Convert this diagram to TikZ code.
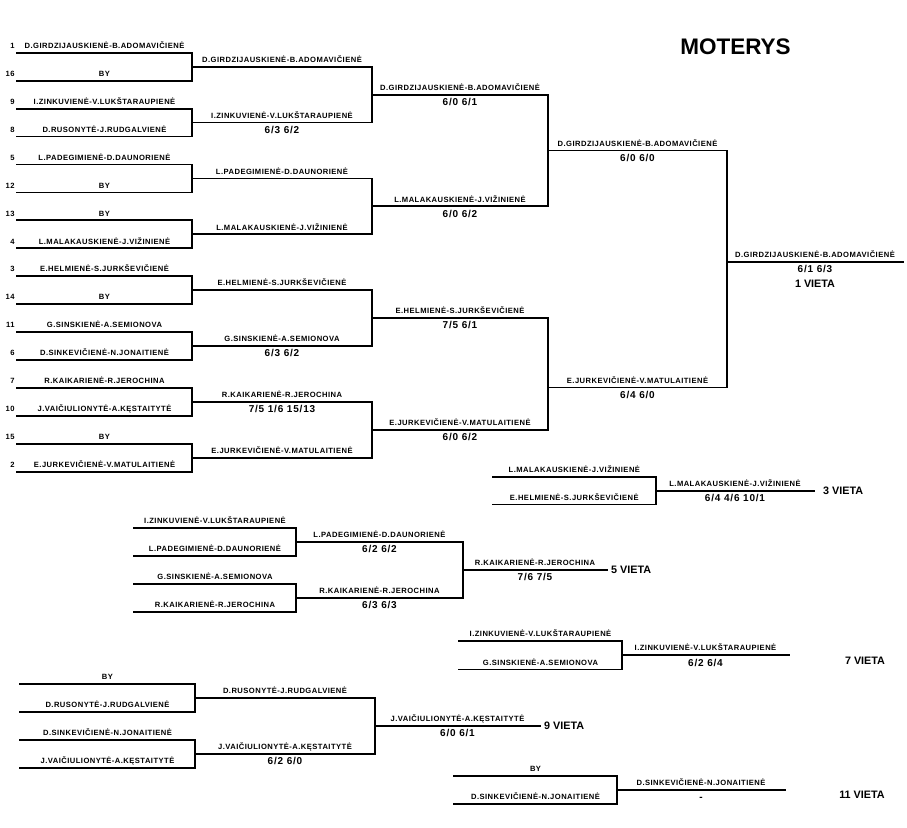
\documentclass[tikz,border=0pt]{standalone}
\usepackage{fontspec}
\setmainfont{Liberation Sans}
\newfontfamily\brfont{Liberation Sans}[LetterSpace=6]
\newfontfamily\resfont{Liberation Sans}[LetterSpace=8]
\usetikzlibrary{calc}

\begin{document}
\begin{tikzpicture}[x=1pt, y=-1pt,
    bline/.style={line width=1.8pt, line cap=rect},
    who/.style={anchor=base, yshift=4.3pt, inner sep=0pt, font=\brfont\bfseries\fontsize{7.6}{8}\selectfont},
    seed/.style={anchor=base east, xshift=-1.5pt, yshift=4.3pt, inner sep=0pt, font=\brfont\bfseries\fontsize{7.6}{8}\selectfont},
    res/.style={anchor=base, yshift=-10.8pt, inner sep=0pt, font=\resfont\bfseries\fontsize{10}{11}\selectfont},
    place/.style={inner sep=0pt, font=\bfseries\fontsize{10.8}{12}\selectfont}]
    \useasboundingbox (0,0) rectangle (907,827);

    \node[inner sep=0pt, font=\bfseries\fontsize{22.5}{24}\selectfont] (title) at (735.5,47) {MOTERYS};

    % main draw
    \coordinate (a1) at (17,52.7);
    \coordinate (a2) at (17,80.6);
    \coordinate (a3) at (17,108.6);
    \coordinate (a4) at (17,136.5);
    \coordinate (a5) at (17,164.5);
    \coordinate (a6) at (17,192.4);
    \coordinate (a7) at (17,220.3);
    \coordinate (a8) at (17,248.3);
    \coordinate (a9) at (17,276.2);
    \coordinate (a10) at (17,304.2);
    \coordinate (a11) at (17,332.1);
    \coordinate (a12) at (17,360.0);
    \coordinate (a13) at (17,388.0);
    \coordinate (a14) at (17,415.9);
    \coordinate (a15) at (17,443.9);
    \coordinate (a16) at (17,471.8);

    \draw[bline] (a1) node[seed] (s1) {1} -- node[who] (a1n) {D.GIRDZIJAUSKIENĖ-B.ADOMAVIČIENĖ} ++(175,0) coordinate (a1e);
    \draw[bline] (a2) node[seed] (s2) {16} -- node[who] (a2n) {BY} ++(175,0) coordinate (a2e);
    \draw[bline] (a3) node[seed] (s3) {9} -- node[who] (a3n) {I.ZINKUVIENĖ-V.LUKŠTARAUPIENĖ} ++(175,0) coordinate (a3e);
    \draw[bline] (a4) node[seed] (s4) {8} -- node[who] (a4n) {D.RUSONYTĖ-J.RUDGALVIENĖ} ++(175,0) coordinate (a4e);
    \draw[bline] (a5) node[seed] (s5) {5} -- node[who] (a5n) {L.PADEGIMIENĖ-D.DAUNORIENĖ} ++(175,0) coordinate (a5e);
    \draw[bline] (a6) node[seed] (s6) {12} -- node[who] (a6n) {BY} ++(175,0) coordinate (a6e);
    \draw[bline] (a7) node[seed] (s7) {13} -- node[who] (a7n) {BY} ++(175,0) coordinate (a7e);
    \draw[bline] (a8) node[seed] (s8) {4} -- node[who] (a8n) {L.MALAKAUSKIENĖ-J.VIŽINIENĖ} ++(175,0) coordinate (a8e);
    \draw[bline] (a9) node[seed] (s9) {3} -- node[who] (a9n) {E.HELMIENĖ-S.JURKŠEVIČIENĖ} ++(175,0) coordinate (a9e);
    \draw[bline] (a10) node[seed] (s10) {14} -- node[who] (a10n) {BY} ++(175,0) coordinate (a10e);
    \draw[bline] (a11) node[seed] (s11) {11} -- node[who] (a11n) {G.SINSKIENĖ-A.SEMIONOVA} ++(175,0) coordinate (a11e);
    \draw[bline] (a12) node[seed] (s12) {6} -- node[who] (a12n) {D.SINKEVIČIENĖ-N.JONAITIENĖ} ++(175,0) coordinate (a12e);
    \draw[bline] (a13) node[seed] (s13) {7} -- node[who] (a13n) {R.KAIKARIENĖ-R.JEROCHINA} ++(175,0) coordinate (a13e);
    \draw[bline] (a14) node[seed] (s14) {10} -- node[who] (a14n) {J.VAIČIULIONYTĖ-A.KĘSTAITYTĖ} ++(175,0) coordinate (a14e);
    \draw[bline] (a15) node[seed] (s15) {15} -- node[who] (a15n) {BY} ++(175,0) coordinate (a15e);
    \draw[bline] (a16) node[seed] (s16) {2} -- node[who] (a16n) {E.JURKEVIČIENĖ-V.MATULAITIENĖ} ++(175,0) coordinate (a16e);

    \draw[bline] (a1e) -- (a2e);
    \draw[bline] (a3e) -- (a4e);
    \draw[bline] (a5e) -- (a6e);
    \draw[bline] (a7e) -- (a8e);
    \draw[bline] (a9e) -- (a10e);
    \draw[bline] (a11e) -- (a12e);
    \draw[bline] (a13e) -- (a14e);
    \draw[bline] (a15e) -- (a16e);

    \coordinate (b1) at ($(a1e)!.5!(a2e)$);
    \coordinate (b2) at ($(a3e)!.5!(a4e)$);
    \coordinate (b3) at ($(a5e)!.5!(a6e)$);
    \coordinate (b4) at ($(a7e)!.5!(a8e)$);
    \coordinate (b5) at ($(a9e)!.5!(a10e)$);
    \coordinate (b6) at ($(a11e)!.5!(a12e)$);
    \coordinate (b7) at ($(a13e)!.5!(a14e)$);
    \coordinate (b8) at ($(a15e)!.5!(a16e)$);

    \draw[bline] (b1) -- node[who] (b1n) {D.GIRDZIJAUSKIENĖ-B.ADOMAVIČIENĖ} ++(180,0) coordinate (b1e);
    \draw[bline] (b2) -- node[who] (b2n) {I.ZINKUVIENĖ-V.LUKŠTARAUPIENĖ} node[res] (b2r) {6/3 6/2} ++(180,0) coordinate (b2e);
    \draw[bline] (b3) -- node[who] (b3n) {L.PADEGIMIENĖ-D.DAUNORIENĖ} ++(180,0) coordinate (b3e);
    \draw[bline] (b4) -- node[who] (b4n) {L.MALAKAUSKIENĖ-J.VIŽINIENĖ} ++(180,0) coordinate (b4e);
    \draw[bline] (b5) -- node[who] (b5n) {E.HELMIENĖ-S.JURKŠEVIČIENĖ} ++(180,0) coordinate (b5e);
    \draw[bline] (b6) -- node[who] (b6n) {G.SINSKIENĖ-A.SEMIONOVA} node[res] (b6r) {6/3 6/2} ++(180,0) coordinate (b6e);
    \draw[bline] (b7) -- node[who] (b7n) {R.KAIKARIENĖ-R.JEROCHINA} node[res] (b7r) {7/5 1/6 15/13} ++(180,0) coordinate (b7e);
    \draw[bline] (b8) -- node[who] (b8n) {E.JURKEVIČIENĖ-V.MATULAITIENĖ} ++(180,0) coordinate (b8e);

    \draw[bline] (b1e) -- (b2e);
    \draw[bline] (b3e) -- (b4e);
    \draw[bline] (b5e) -- (b6e);
    \draw[bline] (b7e) -- (b8e);

    \coordinate (c1) at ($(b1e)!.5!(b2e)$);
    \coordinate (c2) at ($(b3e)!.5!(b4e)$);
    \coordinate (c3) at ($(b5e)!.5!(b6e)$);
    \coordinate (c4) at ($(b7e)!.5!(b8e)$);

    \draw[bline] (c1) -- node[who] (c1n) {D.GIRDZIJAUSKIENĖ-B.ADOMAVIČIENĖ} node[res] (c1r) {6/0 6/1} ++(176,0) coordinate (c1e);
    \draw[bline] (c2) -- node[who] (c2n) {L.MALAKAUSKIENĖ-J.VIŽINIENĖ} node[res] (c2r) {6/0 6/2} ++(176,0) coordinate (c2e);
    \draw[bline] (c3) -- node[who] (c3n) {E.HELMIENĖ-S.JURKŠEVIČIENĖ} node[res] (c3r) {7/5 6/1} ++(176,0) coordinate (c3e);
    \draw[bline] (c4) -- node[who] (c4n) {E.JURKEVIČIENĖ-V.MATULAITIENĖ} node[res] (c4r) {6/0 6/2} ++(176,0) coordinate (c4e);

    \draw[bline] (c1e) -- (c2e);
    \draw[bline] (c3e) -- (c4e);

    \coordinate (d1) at ($(c1e)!.5!(c2e)$);
    \coordinate (d2) at ($(c3e)!.62!(c4e)$);

    \draw[bline] (d1) -- node[who] (d1n) {D.GIRDZIJAUSKIENĖ-B.ADOMAVIČIENĖ} node[res] (d1r) {6/0 6/0} ++(179,0) coordinate (d1e);
    \draw[bline] (d2) -- node[who] (d2n) {E.JURKEVIČIENĖ-V.MATULAITIENĖ} node[res] (d2r) {6/4 6/0} ++(179,0) coordinate (d2e);

    \draw[bline] (d1e) -- (d2e);

    \coordinate (fin) at ($(d1e)!.469!(d2e)$);
    \draw[bline] (fin) -- node[who] (finn) {D.GIRDZIJAUSKIENĖ-B.ADOMAVIČIENĖ} node[res] (finr) {6/1 6/3} ++(176,0) coordinate (fine);
    \node[place] (p1) at ($(fin)+(88,21.8)$) {1 VIETA};

    % 3rd place
    \coordinate (th1) at (492.7,476.9);
    \coordinate (th2) at (492.7,504.5);
    \draw[bline] (th1) -- node[who] (th1n) {L.MALAKAUSKIENĖ-J.VIŽINIENĖ} ++(163.3,0) coordinate (th1e);
    \draw[bline] (th2) -- node[who] (th2n) {E.HELMIENĖ-S.JURKŠEVIČIENĖ} ++(163.3,0) coordinate (th2e);
    \draw[bline] (th1e) -- (th2e);
    \coordinate (thf) at ($(th1e)!.5!(th2e)$);
    \draw[bline] (thf) -- node[who] (thfn) {L.MALAKAUSKIENĖ-J.VIŽINIENĖ} node[res] (thfr) {6/4 4/6 10/1} ++(158,0) coordinate (thfe);
    \node[place, anchor=west] (p3) at ($(thfe)+(9,0.5)$) {3 VIETA};

    % 5th place
    \coordinate (fi1) at (134,527.7);
    \coordinate (fi2) at (134,555.7);
    \coordinate (fi3) at (134,583.7);
    \coordinate (fi4) at (134,611.7);
    \draw[bline] (fi1) -- node[who] (fi1n) {I.ZINKUVIENĖ-V.LUKŠTARAUPIENĖ} ++(162,0) coordinate (fi1e);
    \draw[bline] (fi2) -- node[who] (fi2n) {L.PADEGIMIENĖ-D.DAUNORIENĖ} ++(162,0) coordinate (fi2e);
    \draw[bline] (fi3) -- node[who] (fi3n) {G.SINSKIENĖ-A.SEMIONOVA} ++(162,0) coordinate (fi3e);
    \draw[bline] (fi4) -- node[who] (fi4n) {R.KAIKARIENĖ-R.JEROCHINA} ++(162,0) coordinate (fi4e);
    \draw[bline] (fi1e) -- (fi2e);
    \draw[bline] (fi3e) -- (fi4e);
    \coordinate (fj1) at ($(fi1e)!.5!(fi2e)$);
    \coordinate (fj2) at ($(fi3e)!.5!(fi4e)$);
    \draw[bline] (fj1) -- node[who] (fj1n) {L.PADEGIMIENĖ-D.DAUNORIENĖ} node[res] (fj1r) {6/2 6/2} ++(167,0) coordinate (fj1e);
    \draw[bline] (fj2) -- node[who] (fj2n) {R.KAIKARIENĖ-R.JEROCHINA} node[res] (fj2r) {6/3 6/3} ++(167,0) coordinate (fj2e);
    \draw[bline] (fj1e) -- (fj2e);
    \coordinate (fif) at ($(fj1e)!.5!(fj2e)$);
    \draw[bline] (fif) -- node[who] (fifn) {R.KAIKARIENĖ-R.JEROCHINA} node[res] (fifr) {7/6 7/5} ++(144,0) coordinate (fife);
    \node[place, anchor=west] (p5) at ($(fife)+(4,0.5)$) {5 VIETA};

    % 7th place
    \coordinate (se1) at (459,641);
    \coordinate (se2) at (459,669.5);
    \draw[bline] (se1) -- node[who] (se1n) {I.ZINKUVIENĖ-V.LUKŠTARAUPIENĖ} ++(163,0) coordinate (se1e);
    \draw[bline] (se2) -- node[who] (se2n) {G.SINSKIENĖ-A.SEMIONOVA} ++(163,0) coordinate (se2e);
    \draw[bline] (se1e) -- (se2e);
    \coordinate (sef) at ($(se1e)!.5!(se2e)$);
    \draw[bline] (sef) -- node[who] (sefn) {I.ZINKUVIENĖ-V.LUKŠTARAUPIENĖ} node[res] (sefr) {6/2 6/4} ++(167,0) coordinate (sefe);
    \node[place] (p7) at (865,661) {7 VIETA};

    % 9th place
    \coordinate (ni1) at (20,684);
    \coordinate (ni2) at (20,711.7);
    \coordinate (ni3) at (20,740);
    \coordinate (ni4) at (20,767.7);
    \draw[bline] (ni1) -- node[who] (ni1n) {BY} ++(175,0) coordinate (ni1e);
    \draw[bline] (ni2) -- node[who] (ni2n) {D.RUSONYTĖ-J.RUDGALVIENĖ} ++(175,0) coordinate (ni2e);
    \draw[bline] (ni3) -- node[who] (ni3n) {D.SINKEVIČIENĖ-N.JONAITIENĖ} ++(175,0) coordinate (ni3e);
    \draw[bline] (ni4) -- node[who] (ni4n) {J.VAIČIULIONYTĖ-A.KĘSTAITYTĖ} ++(175,0) coordinate (ni4e);
    \draw[bline] (ni1e) -- (ni2e);
    \draw[bline] (ni3e) -- (ni4e);
    \coordinate (nj1) at ($(ni1e)!.5!(ni2e)$);
    \coordinate (nj2) at ($(ni3e)!.5!(ni4e)$);
    \draw[bline] (nj1) -- node[who] (nj1n) {D.RUSONYTĖ-J.RUDGALVIENĖ} ++(180,0) coordinate (nj1e);
    \draw[bline] (nj2) -- node[who] (nj2n) {J.VAIČIULIONYTĖ-A.KĘSTAITYTĖ} node[res] (nj2r) {6/2 6/0} ++(180,0) coordinate (nj2e);
    \draw[bline] (nj1e) -- (nj2e);
    \coordinate (nif) at ($(nj1e)!.5!(nj2e)$);
    \draw[bline] (nif) -- node[who] (nifn) {J.VAIČIULIONYTĖ-A.KĘSTAITYTĖ} node[res] (nifr) {6/0 6/1} ++(165,0) coordinate (nife);
    \node[place, anchor=west] (p9) at ($(nife)+(4,-0.5)$) {9 VIETA};

    % 11th place
    \coordinate (el1) at (454,775.7);
    \coordinate (el2) at (454,804);
    \draw[bline] (el1) -- node[who] (el1n) {BY} ++(163,0) coordinate (el1e);
    \draw[bline] (el2) -- node[who] (el2n) {D.SINKEVIČIENĖ-N.JONAITIENĖ} ++(163,0) coordinate (el2e);
    \draw[bline] (el1e) -- (el2e);
    \coordinate (elf) at ($(el1e)!.5!(el2e)$);
    \draw[bline] (elf) -- node[who] (elfn) {D.SINKEVIČIENĖ-N.JONAITIENĖ} node[res] (elfr) {-} ++(168,0) coordinate (elfe);
    \node[place] (p11) at (862,795) {11 VIETA};
\end{tikzpicture}
\end{document}
